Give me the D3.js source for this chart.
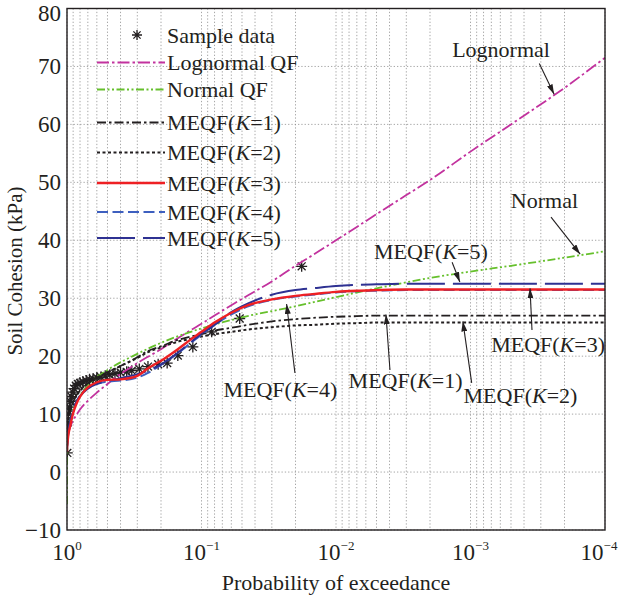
<!DOCTYPE html>
<html>
<head>
<meta charset="utf-8">
<script src="https://cdn.jsdelivr.net/npm/d3@7"></script>
<style>
body { margin: 0; background: #fff; }
text { font-family: "Liberation Serif", "Times New Roman", serif; fill: #231f20; }
</style>
</head>
<body>
<script>
// probability of exceedance grid used for the fitted curves
var probGrid = [0.9999, 0.999, 0.99, 0.98, 0.95, 0.9, 0.85, 0.8, 0.7, 0.6, 0.5, 0.4, 0.3, 0.25, 0.2,
                0.15, 0.12, 0.1, 0.08, 0.06, 0.045, 0.03, 0.02, 0.015, 0.01, 0.007, 0.005, 0.003,
                0.002, 0.001, 0.0005, 0.0002, 0.0001];

var lognormalQF = [3.3, 4.2, 5.8, 6.5, 7.7, 8.9, 9.9, 10.8, 12.3, 13.7, 15.2, 16.9, 18.8, 19.9, 21.2,
                   23.1, 24.5, 25.6, 27.0, 28.8, 30.5, 32.9, 35.6, 37.4, 40.0, 42.3, 44.5, 47.8,
                   50.4, 55.3, 60.0, 66.3, 71.5];
var meqfK1 = [4.0, 5.0, 7.2, 8.5, 10.3, 12.2, 13.3, 14.1, 15.3, 16.3, 17.2, 18.3, 19.8, 20.9, 21.7,
              22.8, 23.4, 23.8, 24.4, 24.9, 25.4, 26.0, 26.4, 26.6, 26.8, 26.9, 27.0, 27.0,
              27.0, 27.0, 27.0, 27.0, 27.0];
var meqfK2 = [4.2, 5.3, 7.5, 8.7, 10.4, 12.1, 13.2, 14.0, 15.3, 16.3, 17.2, 18.3, 19.7, 20.7, 21.5,
              22.5, 23.0, 23.4, 23.8, 24.2, 24.6, 25.0, 25.3, 25.4, 25.6, 25.7, 25.8, 25.8,
              25.8, 25.8, 25.8, 25.8, 25.8];
var meqfK3 = [3.5, 4.0, 5.2, 6.2, 7.8, 10.2, 11.8, 13.0, 14.6, 15.5, 15.9, 16.0, 16.6, 17.9, 19.2,
              21.2, 22.9, 24.2, 25.8, 27.5, 28.8, 29.8, 30.4, 30.7, 31.1, 31.3, 31.4, 31.5,
              31.5, 31.5, 31.5, 31.5, 31.5];
var meqfK4 = [3.5, 4.0, 5.3, 6.4, 8.1, 10.5, 12.1, 13.2, 14.6, 15.3, 15.6, 15.8, 16.3, 17.1, 18.5,
              20.5, 22.3, 23.7, 25.4, 27.2, 28.6, 29.7, 30.3, 30.6, 31.0, 31.2, 31.3, 31.4,
              31.4, 31.4, 31.4, 31.4, 31.4];
var meqfK5 = [3.5, 4.1, 5.6, 6.8, 8.6, 10.8, 12.2, 13.1, 14.4, 15.2, 15.7, 16.2, 16.9, 17.5, 18.6,
              20.6, 22.4, 23.9, 25.4, 27.6, 29.1, 30.6, 31.4, 31.7, 32.1, 32.3, 32.4, 32.5,
              32.5, 32.5, 32.5, 32.5, 32.5];

// normal QF has its own grid, it keeps falling towards p = 1
var normalProb = [0.99999, 0.9999, 0.999, 0.99, 0.95, 0.9, 0.8, 0.7, 0.5, 0.3, 0.2, 0.1, 0.05, 0.02,
                  0.01, 0.005, 0.002, 0.001, 0.0005, 0.0002, 0.0001];
var normalQF = [-5.5, -2.5, 1.0, 5.1, 8.8, 10.8, 13.2, 15.0, 17.6, 20.4, 22.3, 24.8, 26.7, 28.6,
                30.2, 31.7, 33.5, 34.6, 35.6, 37.0, 38.1];

// sample data
var sampleProb = [0.995, 0.985, 0.975, 0.96, 0.945, 0.925, 0.905, 0.885, 0.86, 0.83, 0.8, 0.76,
                  0.72, 0.68, 0.64, 0.6, 0.56, 0.52, 0.48, 0.44, 0.4, 0.36, 0.33, 0.29, 0.25,
                  0.21, 0.18, 0.15, 0.116, 0.084, 0.052, 0.018];
var sampleValue = [3.3, 8.6, 10.0, 11.2, 12.2, 13.0, 13.8, 14.4, 14.9, 15.2, 15.4, 15.6, 15.8,
                   16.0, 16.1, 16.3, 16.4, 16.6, 16.8, 17.0, 17.2, 17.3, 17.5, 17.8, 18.2, 18.6,
                   18.8, 20.1, 21.6, 24.2, 26.5, 35.5];

// tick labels
var yTicks = [-10, 0, 10, 20, 30, 40, 50, 60, 70, 80];
var xTickExp = [0, -1, -2, -3, -4];

var width = 619, height = 602;
var margin = {top: 8.5, right: 14, bottom: 72, left: 67};
var plotW = width - margin.left - margin.right,
    plotH = height - margin.top - margin.bottom;

var x = d3.scaleLog().domain([1, 1e-4]).range([margin.left, margin.left + plotW]);
var y = d3.scaleLinear().domain([-10, 80]).range([margin.top + plotH, margin.top]);

var svg = d3.select("body").append("svg")
    .attr("width", width)
    .attr("height", height);

svg.append("rect").attr("width", width).attr("height", height).attr("fill", "#fff");

var defs = svg.append("defs");
defs.append("clipPath").attr("id", "clip")
  .append("rect")
    .attr("x", margin.left).attr("y", margin.top)
    .attr("width", plotW).attr("height", plotH);
defs.append("marker")
    .attr("id", "arrow")
    .attr("markerUnits", "userSpaceOnUse")
    .attr("viewBox", "0 0 10 6")
    .attr("refX", 10).attr("refY", 3)
    .attr("markerWidth", 10).attr("markerHeight", 6)
    .attr("orient", "auto")
  .append("path")
    .attr("d", "M0,0L10,3L0,6Z")
    .attr("fill", "#231f20");

// grid
var grid = svg.append("g").attr("stroke", "#8f8f8f").attr("stroke-width", 0.8)
    .attr("stroke-dasharray", "1.3,2");
grid.selectAll(".vg").data(x.ticks()).enter().append("line")
    .attr("x1", function(d) { return x(d); }).attr("x2", function(d) { return x(d); })
    .attr("y1", margin.top).attr("y2", margin.top + plotH);
grid.selectAll(".hg").data(yTicks).enter().append("line")
    .attr("y1", function(d) { return y(d); }).attr("y2", function(d) { return y(d); })
    .attr("x1", margin.left).attr("x2", margin.left + plotW);

// line styles
var styles = {
  lognormal: {color: "#c2329e", width: 1.8, dash: "12,3,2.5,3"},
  normal:    {color: "#66c02c", width: 1.8, dash: "8,2.5,2,2.5,2,2.5"},
  k1:        {color: "#231f20", width: 1.8, dash: "9,3,2.5,3"},
  k2:        {color: "#231f20", width: 2,   dash: "3,2.5"},
  k3:        {color: "#ee2024", width: 2.4, dash: null},
  k4:        {color: "#3d5fbf", width: 2,   dash: "11,4.5"},
  k5:        {color: "#2e3192", width: 2,   dash: "38,8"}
};

function pairs(ps, vs) {
  return ps.map(function(p, i) { return [x(p), y(vs[i])]; });
}

var line = d3.line().curve(d3.curveMonotoneX);

var curves = [
  {key: "lognormal", pts: pairs(probGrid, lognormalQF)},
  {key: "normal",    pts: pairs(normalProb, normalQF)},
  {key: "k1",        pts: pairs(probGrid, meqfK1)},
  {key: "k2",        pts: pairs(probGrid, meqfK2)},
  {key: "k4",        pts: pairs(probGrid, meqfK4)},
  {key: "k5",        pts: pairs(probGrid, meqfK5)},
  {key: "k3",        pts: pairs(probGrid, meqfK3)}
];

// asterisk marker
function star(r) {
  var a = r * 0.72;
  return "M" + (-r) + ",0L" + r + ",0M0," + (-r) + "L0," + r +
         "M" + (-a) + "," + (-a) + "L" + a + "," + a + "M" + (-a) + "," + a + "L" + a + "," + (-a);
}

var plot = svg.append("g").attr("clip-path", "url(#clip)");

plot.selectAll(".sample").data(sampleProb).enter().append("path")
    .attr("class", "sample")
    .attr("transform", function(d, i) { return "translate(" + x(d) + "," + y(sampleValue[i]) + ")"; })
    .attr("d", star(5.5))
    .attr("stroke", "#231f20").attr("stroke-width", 1.3).attr("fill", "none");

plot.selectAll(".curve").data(curves).enter().append("path")
    .attr("class", "curve")
    .attr("d", function(d) { return line(d.pts); })
    .attr("fill", "none")
    .attr("stroke", function(d) { return styles[d.key].color; })
    .attr("stroke-width", function(d) { return styles[d.key].width; })
    .attr("stroke-dasharray", function(d) { return styles[d.key].dash; });

// axes box
svg.append("rect")
    .attr("x", margin.left).attr("y", margin.top)
    .attr("width", plotW).attr("height", plotH)
    .attr("fill", "none").attr("stroke", "#231f20").attr("stroke-width", 1.4);

// y tick labels (top one nudged down so it stays on the page)
svg.selectAll(".ytick").data(yTicks).enter().append("text")
    .attr("x", margin.left - 6)
    .attr("y", function(d) { return y(d) + (d === 80 ? 4 : 0); })
    .attr("dy", "0.35em")
    .attr("text-anchor", "end")
    .attr("font-size", 23)
    .text(function(d) { return d < 0 ? "\u2212" + Math.abs(d) : d; });

// x tick labels: 10^k
var xt = svg.selectAll(".xtick").data(xTickExp).enter().append("text")
    .attr("x", function(d) { return x(Math.pow(10, d)) - (d === -4 ? 6 : 0); })
    .attr("y", 560)
    .attr("text-anchor", "middle")
    .attr("font-size", 23);
xt.append("tspan").text("10");
xt.append("tspan")
    .attr("font-size", 13).attr("dy", -10)
    .text(function(d) { return d < 0 ? "\u2212" + Math.abs(d) : d; });

// axis titles
svg.append("text")
    .attr("x", margin.left + plotW / 2).attr("y", 590)
    .attr("text-anchor", "middle").attr("font-size", 22)
    .text("Probability of exceedance");
svg.append("text")
    .attr("transform", "translate(22,271) rotate(-90)")
    .attr("text-anchor", "middle").attr("font-size", 21)
    .text("Soil Cohesion (kPa)");

// legend
var legendItems = [
  {label: "Sample data", key: null, cy: 35},
  {label: "Lognormal QF", key: "lognormal", cy: 62.5},
  {label: "Normal QF", key: "normal", cy: 89.5},
  {label: "MEQF(K=1)", key: "k1", cy: 122.5},
  {label: "MEQF(K=2)", key: "k2", cy: 152.5},
  {label: "MEQF(K=3)", key: "k3", cy: 183},
  {label: "MEQF(K=4)", key: "k4", cy: 212},
  {label: "MEQF(K=5)", key: "k5", cy: 238}
];

// writes "MEQF(K=n)" with an italic K
function meqfText(sel, label) {
  var m = label.match(/^(MEQF\()K(=\d\))$/);
  if (!m) { sel.text(label); return; }
  sel.append("tspan").text(m[1]);
  sel.append("tspan").attr("font-style", "italic").text("K");
  sel.append("tspan").text(m[2]);
}

var lg = svg.append("g");
legendItems.forEach(function(d) {
  if (d.key) {
    var s = styles[d.key];
    lg.append("line")
      .attr("x1", 97).attr("x2", 165).attr("y1", d.cy).attr("y2", d.cy)
      .attr("stroke", s.color).attr("stroke-width", s.width)
      .attr("stroke-dasharray", s.dash);
  } else {
    lg.append("path")
      .attr("transform", "translate(137," + d.cy + ")")
      .attr("d", star(5))
      .attr("stroke", "#231f20").attr("stroke-width", 1.3).attr("fill", "none");
  }
  var t = lg.append("text")
      .attr("x", 167).attr("y", d.cy + 7.5)
      .attr("font-size", 22);
  meqfText(t, d.label);
});

// annotations, anchored in data space (probability, kPa)
var notes = [
  {label: "Lognormal", tp: 5.93e-4, tv: 71.6, fp: 3.08e-4, fv: 70.5, ap: 2.39e-4, av: 65.2},
  {label: "Normal",    tp: 2.82e-4, tv: 45.6, fp: 2.52e-4, fv: 44.0, ap: 1.53e-4, av: 37.6},
  {label: "MEQF(K=5)", tp: 1.97e-3, tv: 36.8, fp: 1.37e-3, fv: 36.2, ap: 1.2e-3,  av: 32.8},
  {label: "MEQF(K=3)", tp: 2.65e-4, tv: 20.7, fp: 3.49e-4, fv: 24.5, ap: 3.61e-4, av: 31.7},
  {label: "MEQF(K=1)", tp: 3.04e-3, tv: 14.5, fp: 3.97e-3, fv: 17.6, ap: 4.25e-3, av: 27.2},
  {label: "MEQF(K=2)", tp: 4.25e-4, tv: 11.9, fp: 9.8e-4,  fv: 15.4, ap: 1.14e-3, av: 26.0},
  {label: "MEQF(K=4)", tp: 0.0259,  tv: 12.95, fp: 0.0202, fv: 17.1, ap: 0.0233,  av: 29.0}
];

var an = svg.append("g");
notes.forEach(function(d) {
  an.append("line")
    .attr("x1", x(d.fp)).attr("y1", y(d.fv))
    .attr("x2", x(d.ap)).attr("y2", y(d.av))
    .attr("stroke", "#231f20").attr("stroke-width", 1.1)
    .attr("marker-end", "url(#arrow)");
  var t = an.append("text")
    .attr("x", x(d.tp)).attr("y", y(d.tv))
    .attr("text-anchor", "middle")
    .attr("font-size", 22);
  meqfText(t, d.label);
});
</script>
</body>
</html>
